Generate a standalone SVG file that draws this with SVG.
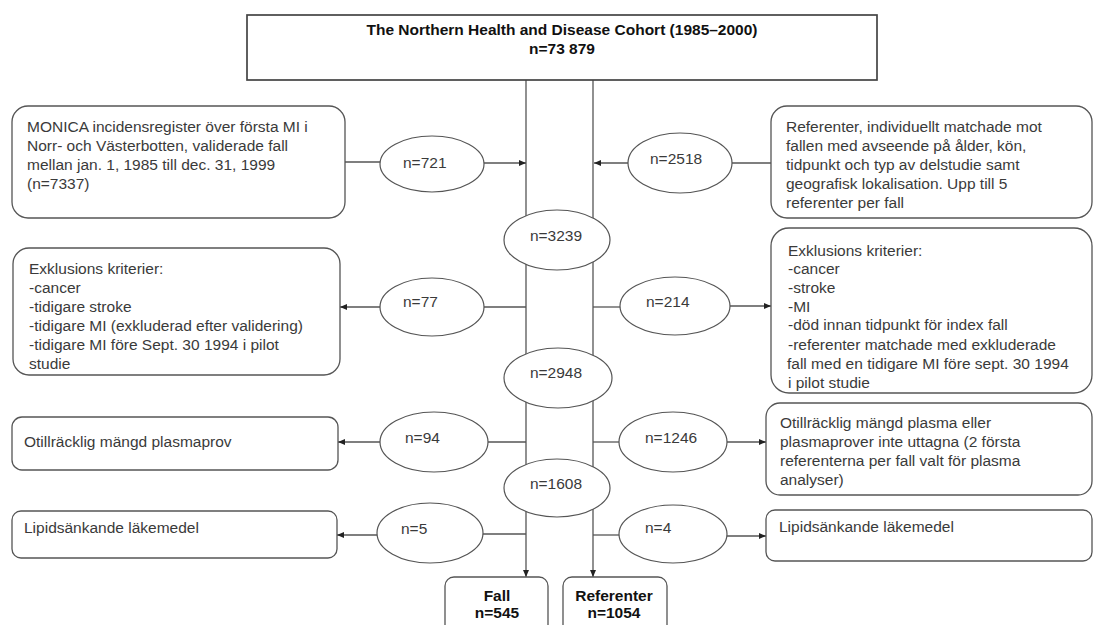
<svg xmlns="http://www.w3.org/2000/svg" width="1094" height="625" viewBox="0 0 1094 625">
<style>
  .box{fill:#fff;stroke:#555;stroke-width:1.3}
  .ell{fill:#fff;stroke:#555;stroke-width:1.2}
  .ln{fill:none;stroke:#555;stroke-width:1.3}
  text{font-family:"Liberation Sans",Arial,sans-serif;font-size:15.5px;fill:#3a3a3a}
  .b{font-weight:bold;fill:#111;text-anchor:middle}
  .c{text-anchor:middle}
</style>
<defs>
  <marker id="ah" markerUnits="userSpaceOnUse" markerWidth="8" markerHeight="8" refX="7" refY="3" orient="auto">
    <path d="M0,0 L7,3 L0,6 Z" fill="#222"/>
  </marker>
</defs>
<rect width="1094" height="625" fill="#fff"/>

<g id="connectors">
  <line class="ln" x1="526" y1="80" x2="526" y2="577" marker-end="url(#ah)"/>
  <line class="ln" x1="593" y1="80" x2="593" y2="577" marker-end="url(#ah)"/>
  <line class="ln" x1="345" y1="162" x2="382" y2="162"/>
  <line class="ln" x1="484" y1="163" x2="526" y2="163" marker-end="url(#ah)"/>
  <line class="ln" x1="771" y1="163" x2="731" y2="163"/>
  <line class="ln" x1="628" y1="163" x2="594" y2="163" marker-end="url(#ah)"/>
  <line class="ln" x1="526" y1="307" x2="484" y2="307"/>
  <line class="ln" x1="381" y1="307" x2="340" y2="307" marker-end="url(#ah)"/>
  <line class="ln" x1="593" y1="307" x2="621" y2="307"/>
  <line class="ln" x1="729" y1="306" x2="771" y2="306" marker-end="url(#ah)"/>
  <line class="ln" x1="526" y1="442" x2="487" y2="442"/>
  <line class="ln" x1="381" y1="442" x2="338" y2="442" marker-end="url(#ah)"/>
  <line class="ln" x1="593" y1="442" x2="621" y2="442"/>
  <line class="ln" x1="726" y1="442" x2="766" y2="442" marker-end="url(#ah)"/>
  <line class="ln" x1="526" y1="534" x2="482" y2="534"/>
  <line class="ln" x1="378" y1="535" x2="337" y2="535" marker-end="url(#ah)"/>
  <line class="ln" x1="593" y1="535" x2="621" y2="535"/>
  <line class="ln" x1="726" y1="536" x2="766" y2="536" marker-end="url(#ah)"/>
</g>

<g id="cohort">
  <rect class="box" x="247" y="15" width="630" height="65" style="stroke-width:1.7;stroke:#444"/>
  <text class="b" x="562" y="35">The Northern Health and Disease Cohort (1985–2000)</text>
  <text class="b" x="562" y="54">n=73 879</text>
</g>

<g id="monica">
  <rect class="box" x="12" y="106" width="333" height="112" rx="16"/>
  <text x="27" y="132">MONICA incidensregister över första MI i</text>
  <text x="27" y="151">Norr- och Västerbotten, validerade fall</text>
  <text x="27" y="170">mellan jan. 1, 1985 till dec. 31, 1999</text>
  <text x="27" y="189">(n=7337)</text>
</g>

<g id="e721">
  <ellipse class="ell" cx="432" cy="164" rx="52" ry="28"/>
  <text x="403" y="168">n=721</text>
</g>

<g id="referenter-match">
  <rect class="box" x="771" y="106" width="321" height="112" rx="16"/>
  <text x="786" y="132">Referenter, individuellt matchade mot</text>
  <text x="786" y="151">fallen med avseende på ålder, kön,</text>
  <text x="786" y="170">tidpunkt och typ av delstudie samt</text>
  <text x="786" y="189">geografisk lokalisation. Upp till 5</text>
  <text x="786" y="208">referenter per fall</text>
</g>

<g id="e2518">
  <ellipse class="ell" cx="680" cy="163" rx="52" ry="30"/>
  <text x="650" y="164">n=2518</text>
</g>

<g id="e3239">
  <ellipse class="ell" cx="557" cy="240" rx="53" ry="30"/>
  <text class="c" x="556" y="241">n=3239</text>
</g>

<g id="excl-cases">
  <rect class="box" x="13" y="248" width="327" height="127" rx="16"/>
  <text x="29" y="274">Exklusions kriterier:</text>
  <text x="29" y="293">-cancer</text>
  <text x="29" y="312">-tidigare stroke</text>
  <text x="29" y="331">-tidigare MI (exkluderad efter validering)</text>
  <text x="29" y="350">-tidigare MI före Sept. 30 1994 i pilot</text>
  <text x="29" y="369">studie</text>
</g>

<g id="e77">
  <ellipse class="ell" cx="432" cy="307" rx="52" ry="29"/>
  <text x="403" y="307">n=77</text>
</g>

<g id="excl-refs">
  <rect class="box" x="771" y="228" width="321" height="165" rx="18"/>
  <text x="788" y="256">Exklusions kriterier:</text>
  <text x="788" y="274">-cancer</text>
  <text x="788" y="293">-stroke</text>
  <text x="788" y="312">-MI</text>
  <text x="788" y="330">-död innan tidpunkt för index fall</text>
  <text x="788" y="350">-referenter matchade med exkluderade</text>
  <text x="787" y="369">fall med en tidigare MI före sept. 30 1994</text>
  <text x="788" y="388">i pilot studie</text>
</g>

<g id="e214">
  <ellipse class="ell" cx="675" cy="306" rx="55" ry="29"/>
  <text x="646" y="307">n=214</text>
</g>

<g id="e2948">
  <ellipse class="ell" cx="558" cy="378" rx="54" ry="30"/>
  <text class="c" x="556" y="378">n=2948</text>
</g>

<g id="plasma-cases">
  <rect class="box" x="12" y="417" width="326" height="53" rx="10"/>
  <text x="24" y="447">Otillräcklig mängd plasmaprov</text>
</g>

<g id="e94">
  <ellipse class="ell" cx="434" cy="442" rx="54" ry="30"/>
  <text x="405" y="443">n=94</text>
</g>

<g id="plasma-refs">
  <rect class="box" x="766" y="403" width="326" height="92" rx="14"/>
  <text x="780" y="428">Otillräcklig mängd plasma eller</text>
  <text x="780" y="447">plasmaprover inte uttagna (2 första</text>
  <text x="780" y="466">referenterna per fall valt för plasma</text>
  <text x="780" y="485">analyser)</text>
</g>

<g id="e1246">
  <ellipse class="ell" cx="673" cy="442" rx="54" ry="30"/>
  <text x="645" y="443">n=1246</text>
</g>

<g id="e1608">
  <ellipse class="ell" cx="557" cy="488" rx="53" ry="29"/>
  <text class="c" x="556" y="489">n=1608</text>
</g>

<g id="lipid-cases">
  <rect class="box" x="12" y="511" width="325" height="47" rx="9"/>
  <text x="24" y="533">Lipidsänkande läkemedel</text>
</g>

<g id="e5">
  <ellipse class="ell" cx="430" cy="533" rx="53" ry="30"/>
  <text x="401" y="534">n=5</text>
</g>

<g id="lipid-refs">
  <rect class="box" x="766" y="510" width="326" height="51" rx="9"/>
  <text x="779" y="532">Lipidsänkande läkemedel</text>
</g>

<g id="e4">
  <ellipse class="ell" cx="673" cy="534" rx="54" ry="29"/>
  <text x="645" y="533">n=4</text>
</g>

<g id="fall">
  <rect class="box" x="445" y="577" width="103" height="70" rx="9"/>
  <text class="b" x="497" y="601">Fall</text>
  <text class="b" x="497" y="618">n=545</text>
</g>

<g id="referenter">
  <rect class="box" x="563" y="577" width="104" height="70" rx="9"/>
  <text class="b" x="614" y="601">Referenter</text>
  <text class="b" x="614" y="618">n=1054</text>
</g>
</svg>
